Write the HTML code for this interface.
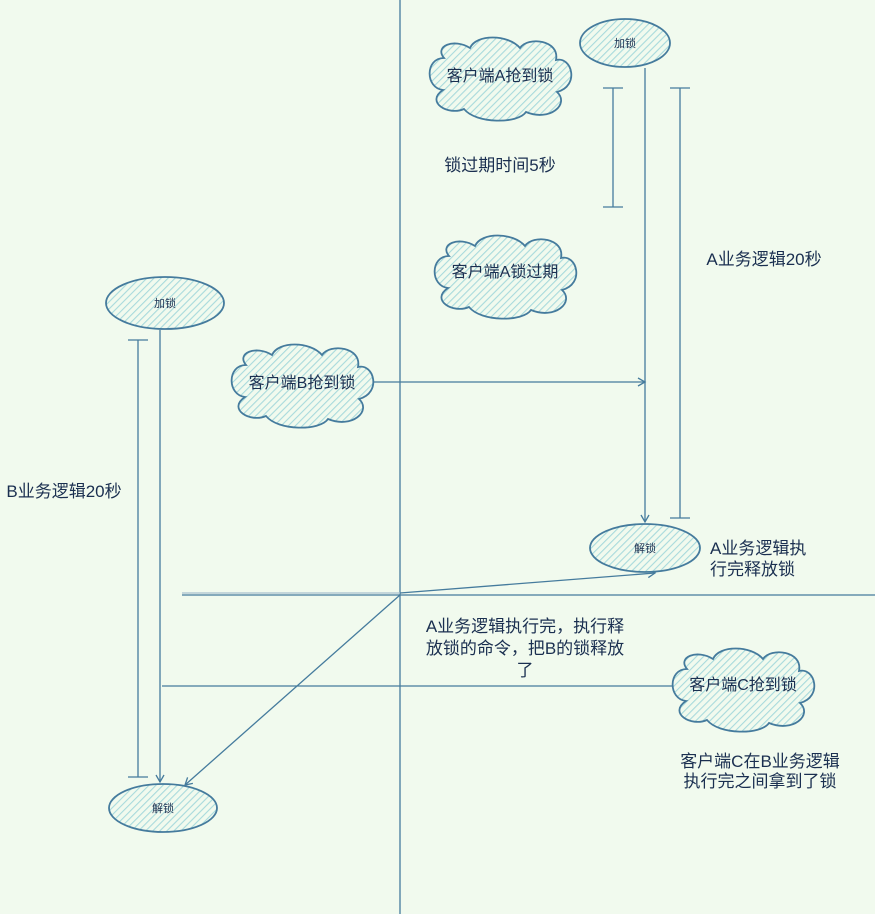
<!DOCTYPE html>
<html><head><meta charset="utf-8"><style>
html,body{margin:0;padding:0;background:#f1faee;}
svg{display:block;}
text{font-family:"Liberation Sans","Noto Sans CJK SC",sans-serif;fill:#1a2f50;}
</style></head><body>
<svg width="875" height="914" viewBox="0 0 875 914" xmlns="http://www.w3.org/2000/svg">
<defs>
<pattern id="h" patternUnits="userSpaceOnUse" width="5" height="5" patternTransform="rotate(45)">
<rect width="5" height="5" fill="#f1faee"/>
<line x1="0" y1="0" x2="0" y2="5" stroke="#a8dadc" stroke-width="2.2"/>
</pattern>
<marker id="a" markerWidth="10" markerHeight="10" refX="8" refY="5" orient="auto" markerUnits="userSpaceOnUse">
<path d="M1,1 L8,5 L1,9" fill="none" stroke="#457b9d" stroke-width="1.3"/>
</marker>
<path id="cloud" d="M-56,-18 C-75,-18 -75,12 -57,14 C-75,26 -52,40 -36,33 C-24,48 18,48 26,36 C50,46 70,28 57,16 C80,10 72,-20 56,-16 C60,-36 28,-40 20,-28 C8,-42 -24,-42 -30,-28 C-46,-38 -66,-30 -56,-18 Z"/>
</defs>
<g stroke="#457b9d" stroke-width="1.3" fill="none">
<line x1="400" y1="0" x2="400" y2="914"/>
<line x1="182" y1="595" x2="875" y2="595"/>
<line x1="182" y1="593" x2="400" y2="593" stroke="#a9c1cf"/>
<line x1="613" y1="88" x2="613" y2="207"/><line x1="603" y1="88" x2="623" y2="88"/><line x1="603" y1="207" x2="623" y2="207"/>
<line x1="680" y1="88" x2="680" y2="518"/><line x1="670" y1="88" x2="690" y2="88"/><line x1="670" y1="518" x2="690" y2="518"/>
<line x1="138" y1="340" x2="138" y2="777"/><line x1="128" y1="340" x2="148" y2="340"/><line x1="128" y1="777" x2="148" y2="777"/>
<line x1="645" y1="68" x2="645" y2="522" marker-end="url(#a)"/>
<line x1="160" y1="330" x2="160" y2="782" marker-end="url(#a)"/>
<line x1="370" y1="382" x2="645" y2="382" marker-end="url(#a)"/>
<line x1="400" y1="593" x2="655" y2="573" marker-end="url(#a)"/>
<line x1="400" y1="595" x2="185" y2="785" marker-end="url(#a)"/>
<line x1="162" y1="686" x2="672" y2="686"/>
</g>
<g stroke="#457b9d" stroke-width="1.8" fill="url(#h)">
<ellipse cx="625" cy="43" rx="45" ry="24"/>
<ellipse cx="165" cy="303" rx="59" ry="26"/>
<ellipse cx="645" cy="548" rx="55" ry="24"/>
<ellipse cx="163" cy="808" rx="54" ry="24"/>
<use href="#cloud" transform="translate(500,76)"/>
<use href="#cloud" transform="translate(505,274)"/>
<use href="#cloud" transform="translate(302,383)"/>
<use href="#cloud" transform="translate(743,687)"/>
</g>
<g font-size="11" text-anchor="middle">
<text x="625" y="47">加锁</text>
<text x="165" y="307">加锁</text>
<text x="645" y="552">解锁</text>
<text x="163" y="812">解锁</text>
</g>
<g font-size="16" text-anchor="middle">
<text x="500" y="81">客户端A抢到锁</text>
<text x="505" y="277">客户端A锁过期</text>
<text x="302" y="388">客户端B抢到锁</text>
<text x="743" y="690">客户端C抢到锁</text>
</g>
<g font-size="17" text-anchor="middle">
<text x="500" y="171">锁过期时间5秒</text>
<text x="764" y="265">A业务逻辑20秒</text>
<text x="64" y="497">B业务逻辑20秒</text>
<text x="525" y="632">A业务逻辑执行完，执行释</text>
<text x="525" y="654">放锁的命令，把B的锁释放</text>
<text x="525" y="676">了</text>
<text x="760" y="767">客户端C在B业务逻辑</text>
<text x="760" y="787">执行完之间拿到了锁</text>
</g>
<g font-size="17">
<text x="710" y="554">A业务逻辑执</text>
<text x="710" y="575">行完释放锁</text>
</g>
</svg>
</body></html>
